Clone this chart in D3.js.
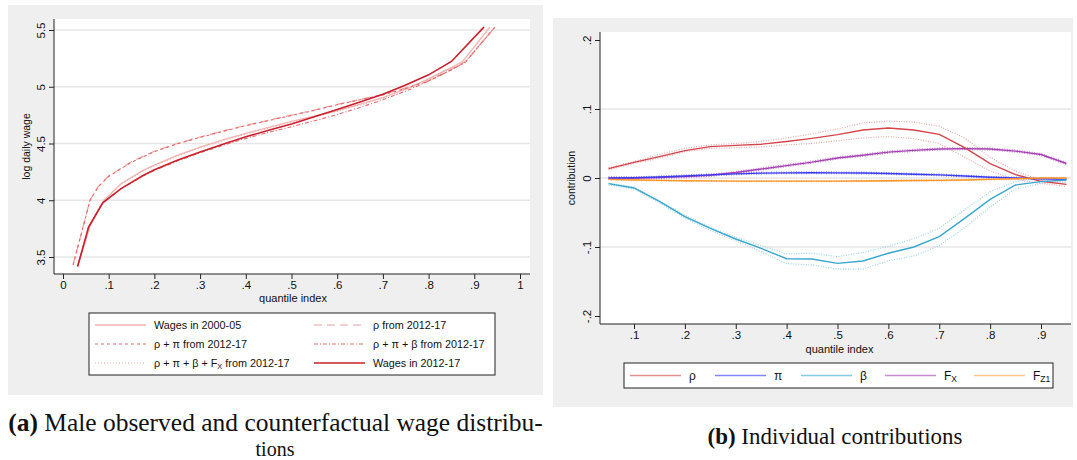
<!DOCTYPE html>
<html>
<head>
<meta charset="utf-8">
<script src="https://cdn.jsdelivr.net/npm/d3@7"></script>
<style>
  html, body { margin: 0; padding: 0; background: #ffffff; }
  svg { display: block; }
  text { font-family: "Liberation Sans", Arial, sans-serif; fill: #111; }
  .cap { font-family: "Liberation Serif", "DejaVu Serif", serif; }
</style>
</head>
<body>
<svg id="chart" width="1077" height="460"></svg>
<script>
// ---------- Panel (a): observed and counterfactual quantile curves ----------
const qWage0005 = [0.032, 0.06, 0.09, 0.127, 0.176, 0.2, 0.25, 0.3, 0.35, 0.4, 0.45, 0.5, 0.55, 0.6, 0.65, 0.7, 0.75, 0.8, 0.85, 0.875, 0.934];
const vWage0005 = [3.42, 3.78, 4.0, 4.145, 4.265, 4.31, 4.395, 4.468, 4.532, 4.59, 4.643, 4.694, 4.742, 4.79, 4.846, 4.905, 4.98, 5.07, 5.17, 5.225, 5.525];

const qRho = [0.022, 0.044, 0.059, 0.077, 0.1, 0.15, 0.2, 0.25, 0.3, 0.35, 0.4, 0.45, 0.5, 0.55, 0.6, 0.65, 0.7, 0.75, 0.8, 0.85, 0.88, 0.945];
const vRho = [3.43, 3.767, 4.0, 4.12, 4.214, 4.34, 4.432, 4.5, 4.557, 4.61, 4.66, 4.705, 4.75, 4.795, 4.845, 4.888, 4.932, 4.99, 5.055, 5.155, 5.22, 5.525];
const vRhoPi = [3.43, 3.765, 3.998, 4.118, 4.21, 4.336, 4.428, 4.497, 4.554, 4.607, 4.657, 4.702, 4.747, 4.792, 4.842, 4.885, 4.928, 4.985, 5.05, 5.15, 5.215, 5.525];

const qRhoPiBeta = [0.032, 0.056, 0.087, 0.127, 0.176, 0.2, 0.25, 0.3, 0.35, 0.4, 0.45, 0.5, 0.55, 0.6, 0.65, 0.7, 0.75, 0.8, 0.85, 0.88, 0.945];
const vRhoPiBeta = [3.417, 3.763, 3.978, 4.1, 4.215, 4.262, 4.345, 4.418, 4.484, 4.545, 4.598, 4.648, 4.7, 4.755, 4.818, 4.885, 4.962, 5.05, 5.15, 5.215, 5.525];
const vRhoPiBetaFx = [3.42, 3.775, 3.995, 4.14, 4.258, 4.303, 4.388, 4.46, 4.524, 4.582, 4.635, 4.686, 4.734, 4.782, 4.838, 4.897, 4.972, 5.062, 5.165, 5.22, 5.525];

const qWage1217 = [0.032, 0.056, 0.087, 0.127, 0.176, 0.2, 0.25, 0.3, 0.35, 0.4, 0.45, 0.5, 0.55, 0.6, 0.65, 0.7, 0.75, 0.8, 0.85, 0.921];
const vWage1217 = [3.417, 3.763, 3.978, 4.102, 4.22, 4.268, 4.352, 4.426, 4.494, 4.559, 4.616, 4.671, 4.735, 4.8, 4.866, 4.934, 5.015, 5.105, 5.223, 5.525];

const ticksXa = [0, 0.1, 0.2, 0.3, 0.4, 0.5, 0.6, 0.7, 0.8, 0.9, 1];
const tickLabelsXa = ["0", ".1", ".2", ".3", ".4", ".5", ".6", ".7", ".8", ".9", "1"];
const ticksYa = [3.5, 4, 4.5, 5, 5.5];
const tickLabelsYa = ["3.5", "4", "4.5", "5", "5.5"];

// ---------- Panel (b): individual contributions with bands ----------
const qContrib = [0.05, 0.1, 0.15, 0.2, 0.25, 0.3, 0.35, 0.4, 0.45, 0.5, 0.55, 0.6, 0.65, 0.7, 0.75, 0.8, 0.85, 0.9, 0.95];

const rhoMid = [0.0135, 0.0227, 0.031, 0.0396, 0.0454, 0.0473, 0.049, 0.053, 0.0575, 0.0628, 0.0696, 0.0725, 0.0696, 0.0633, 0.044, 0.0208, 0.0048, -0.0048, -0.0092];
const rhoHi = [0.015, 0.024, 0.034, 0.043, 0.048, 0.05, 0.053, 0.058, 0.064, 0.071, 0.08, 0.0825, 0.081, 0.075, 0.058, 0.03, 0.01, -0.003, -0.006];
const rhoLo = [0.012, 0.021, 0.029, 0.038, 0.043, 0.044, 0.045, 0.048, 0.05, 0.054, 0.058, 0.06, 0.057, 0.05, 0.03, 0.01, -0.002, -0.008, -0.012];

const piMid = [0.0, 0.0005, 0.0015, 0.003, 0.0045, 0.006, 0.007, 0.0075, 0.0077, 0.0075, 0.0072, 0.0065, 0.0055, 0.0045, 0.0028, 0.001, 0.0, -0.001, -0.002];
const piHi = piMid.map(v => v + 0.0012);
const piLo = piMid.map(v => v - 0.0012);

const betaMid = [-0.0082, -0.0145, -0.034, -0.056, -0.073, -0.0884, -0.102, -0.117, -0.1174, -0.1237, -0.1203, -0.109, -0.1, -0.085, -0.0585, -0.031, -0.0101, -0.0053, -0.003];
const betaHi = [-0.0075, -0.013, -0.033, -0.054, -0.071, -0.086, -0.098, -0.11, -0.109, -0.114, -0.108, -0.099, -0.088, -0.073, -0.046, -0.02, -0.005, 0.0, 0.001];
const betaLo = [-0.01, -0.016, -0.036, -0.058, -0.076, -0.091, -0.107, -0.124, -0.126, -0.132, -0.132, -0.12, -0.113, -0.098, -0.072, -0.042, -0.016, -0.008, -0.006];

const fxMid = [0.0, -0.0005, 0.0008, 0.002, 0.004, 0.008, 0.013, 0.018, 0.023, 0.029, 0.033, 0.0375, 0.04, 0.042, 0.0425, 0.042, 0.039, 0.034, 0.021];
const fxHi = fxMid.map(v => v + 0.0015);
const fxLo = fxMid.map(v => v - 0.0015);

const fzMid = [-0.002, -0.003, -0.0035, -0.004, -0.0042, -0.0045, -0.0045, -0.0045, -0.0045, -0.0045, -0.0043, -0.004, -0.0037, -0.0035, -0.0028, -0.002, -0.001, 0.0, 0.0];
const fzHi = fzMid.map(v => v + 0.0008);
const fzLo = fzMid.map(v => v - 0.0008);

const ticksXb = [0.1, 0.2, 0.3, 0.4, 0.5, 0.6, 0.7, 0.8, 0.9];
const tickLabelsXb = [".1", ".2", ".3", ".4", ".5", ".6", ".7", ".8", ".9"];
const ticksYb = [-0.2, -0.1, 0, 0.1, 0.2];
const tickLabelsYb = ["-.2", "-.1", "0", ".1", ".2"];

const svg = d3.select("#chart");
const BG = "#efefef";
const GRID = "#e6e6e6";

function zip(qs, vs) { return qs.map((q, i) => [q, vs[i]]); }

// ================= Panel (a) =================
const A = { bgX: 8, bgY: 5, bgW: 535, bgH: 390, left: 54, right: 530, top: 19, bottom: 274 };
svg.append("rect").attr("x", A.bgX).attr("y", A.bgY).attr("width", A.bgW).attr("height", A.bgH).attr("fill", BG);
svg.append("rect").attr("x", A.left).attr("y", A.top).attr("width", A.right - A.left).attr("height", A.bottom - A.top).attr("fill", "#fff");

const xA = d3.scaleLinear().domain([0, 1]).range([63, 520]);
const yA = d3.scaleLinear().domain([3.5, 5.5]).range([257, 30]);

const gA = svg.append("g");
// gridlines
gA.selectAll("line.grid").data(ticksYa).join("line")
  .attr("x1", A.left).attr("x2", A.right)
  .attr("y1", d => yA(d)).attr("y2", d => yA(d))
  .attr("stroke", GRID).attr("stroke-width", 1.3);

// axes
const axXa = d3.axisBottom(xA).tickValues(ticksXa).tickFormat((d, i) => tickLabelsXa[i]).tickSize(5).tickPadding(2);
const gxA = gA.append("g").attr("transform", `translate(0,${A.bottom})`).call(axXa);
gxA.select(".domain").remove();
gA.append("line").attr("x1", A.left).attr("x2", A.right).attr("y1", A.bottom).attr("y2", A.bottom).attr("stroke", "#222");
gxA.selectAll("text").attr("font-size", 11.5).attr("font-family", "Liberation Sans, Arial, sans-serif").attr("fill", "#111");
gxA.selectAll(".tick line").attr("stroke", "#222");

const axYa = d3.axisLeft(yA).tickValues(ticksYa).tickFormat((d, i) => tickLabelsYa[i]).tickSize(5).tickPadding(3);
const gyA = gA.append("g").attr("transform", `translate(${A.left},0)`).call(axYa);
gyA.select(".domain").remove();
gA.append("line").attr("x1", A.left).attr("x2", A.left).attr("y1", A.top).attr("y2", A.bottom).attr("stroke", "#222");
gyA.selectAll(".tick line").attr("stroke", "#222");
gyA.selectAll("text")
  .attr("font-size", 11.5).attr("font-family", "Liberation Sans, Arial, sans-serif").attr("fill", "#111")
  .attr("text-anchor", "middle").attr("x", 0).attr("dy", null)
  .attr("transform", "translate(-13,0) rotate(-90)")
  .attr("dominant-baseline", "central");

gA.append("text").attr("x", (A.left + A.right) / 2 + 1).attr("y", 302).attr("text-anchor", "middle")
  .attr("font-size", 11).text("quantile index");
gA.append("text").attr("transform", `translate(30,${(A.top + A.bottom) / 2}) rotate(-90)`).attr("text-anchor", "middle")
  .attr("font-size", 10.5).text("log daily wage");

const lineA = d3.line().x(d => xA(d[0])).y(d => yA(d[1]));
const seriesA = [
  { name: "Wages in 2000-05", data: zip(qWage0005, vWage0005), color: "#f2b3b3", dash: null, w: 1.3 },
  { name: "ρ from 2012-17", data: zip(qRho, vRho), color: "#eaa0a0", dash: "8,5", w: 1.2 },
  { name: "ρ + π from 2012-17", data: zip(qRho, vRhoPi), color: "#e46a6a", dash: "3,3", w: 1.1 },
  { name: "ρ + π + β from 2012-17", data: zip(qRhoPiBeta, vRhoPiBeta), color: "#e27070", dash: "4,2,1,2", w: 1.1 },
  { name: "ρ + π + β + Fx from 2012-17", data: zip(qRhoPiBeta, vRhoPiBetaFx), color: "#f0b0b0", dash: "1,2", w: 1.1 },
  { name: "Wages in 2012-17", data: zip(qWage1217, vWage1217), color: "#c8202c", dash: null, w: 1.6 }
];
gA.selectAll("path.s").data(seriesA).join("path")
  .attr("d", d => lineA(d.data)).attr("fill", "none")
  .attr("stroke", d => d.color).attr("stroke-width", d => d.w)
  .attr("stroke-dasharray", d => d.dash);

// legend (a)
const legA = svg.append("g");
legA.append("rect").attr("x", 89).attr("y", 313).attr("width", 406).attr("height", 62)
  .attr("fill", "#fff").attr("stroke", "#222").attr("stroke-width", 1);
const legALayout = [
  { s: 0, x: 95, y: 325 }, { s: 1, x: 314, y: 325 },
  { s: 2, x: 95, y: 344 }, { s: 3, x: 314, y: 344 },
  { s: 4, x: 95, y: 363 }, { s: 5, x: 314, y: 363 }
];
legALayout.forEach(L => {
  const s = seriesA[L.s];
  legA.append("line").attr("x1", L.x).attr("x2", L.x + 51).attr("y1", L.y).attr("y2", L.y)
    .attr("stroke", s.color).attr("stroke-width", s.w).attr("stroke-dasharray", s.dash);
  const t = legA.append("text").attr("x", L.x + 59).attr("y", L.y).attr("dy", "0.35em").attr("font-size", 10.8);
  if (L.s === 4) {
    t.append("tspan").text("ρ + π + β + F");
    t.append("tspan").attr("font-size", 7.5).attr("dy", "0.35em").text("X");
    t.append("tspan").attr("dy", "-0.25em").text(" from 2012-17");
  } else {
    t.text(s.name);
  }
});

// ================= Panel (b) =================
const B = { bgX: 553, bgY: 18, bgW: 520, bgH: 389, left: 600, right: 1071, top: 32, bottom: 324 };
svg.append("rect").attr("x", B.bgX).attr("y", B.bgY).attr("width", B.bgW).attr("height", B.bgH).attr("fill", BG);
svg.append("rect").attr("x", B.left).attr("y", B.top).attr("width", B.right - B.left).attr("height", B.bottom - B.top).attr("fill", "#fff");

const xB = d3.scaleLinear().domain([0.1, 0.9]).range([634, 1041]);
const yB = d3.scaleLinear().domain([-0.2, 0.2]).range([316, 40]);

const gB = svg.append("g");
gB.selectAll("line.grid").data([-0.1, 0, 0.1]).join("line")
  .attr("x1", B.left).attr("x2", B.right)
  .attr("y1", d => yB(d)).attr("y2", d => yB(d))
  .attr("stroke", GRID).attr("stroke-width", 1.3);

const axXb = d3.axisBottom(xB).tickValues(ticksXb).tickFormat((d, i) => tickLabelsXb[i]).tickSize(5).tickPadding(2);
const gxB = gB.append("g").attr("transform", `translate(0,${B.bottom})`).call(axXb);
gxB.select(".domain").remove();
gB.append("line").attr("x1", B.left).attr("x2", B.right).attr("y1", B.bottom).attr("y2", B.bottom).attr("stroke", "#222");
gxB.selectAll("text").attr("font-size", 11.5).attr("font-family", "Liberation Sans, Arial, sans-serif").attr("fill", "#111");
gxB.selectAll(".tick line").attr("stroke", "#222");

const axYb = d3.axisLeft(yB).tickValues(ticksYb).tickFormat((d, i) => tickLabelsYb[i]).tickSize(5).tickPadding(3);
const gyB = gB.append("g").attr("transform", `translate(${B.left},0)`).call(axYb);
gyB.select(".domain").remove();
gB.append("line").attr("x1", B.left).attr("x2", B.left).attr("y1", B.top).attr("y2", B.bottom).attr("stroke", "#222");
gyB.selectAll(".tick line").attr("stroke", "#222");
gyB.selectAll("text")
  .attr("font-size", 11.5).attr("font-family", "Liberation Sans, Arial, sans-serif").attr("fill", "#111")
  .attr("text-anchor", "middle").attr("x", 0).attr("dy", null)
  .attr("transform", "translate(-13,0) rotate(-90)")
  .attr("dominant-baseline", "central");

gB.append("text").attr("x", (xB(0.1) + xB(0.9)) / 2 + 2).attr("y", 353).attr("text-anchor", "middle")
  .attr("font-size", 11).text("quantile index");
gB.append("text").attr("transform", `translate(575,178) rotate(-90)`).attr("text-anchor", "middle")
  .attr("font-size", 10.5).text("contribution");

const lineB = d3.line().x(d => xB(d[0])).y(d => yB(d[1]));
const seriesB = [
  { key: "fx", mid: fxMid, hi: fxHi, lo: fxLo, color: "#a53fb3", band: "#c98ad0", legend: "#c88ad0" },
  { key: "rho", mid: rhoMid, hi: rhoHi, lo: rhoLo, color: "#d2454d", band: "#eeaaaa", legend: "#e38f8f" },
  { key: "pi", mid: piMid, hi: piHi, lo: piLo, color: "#3b3bf5", band: "#8a8aff", legend: "#8585ff" },
  { key: "beta", mid: betaMid, hi: betaHi, lo: betaLo, color: "#3aa6cf", band: "#9fd6ea", legend: "#86cce0" },
  { key: "fz", mid: fzMid, hi: fzHi, lo: fzLo, color: "#ff9528", band: "#ffc08a", legend: "#ffc68a" }
];
seriesB.forEach(s => {
  [s.hi, s.lo].forEach(b => {
    gB.append("path").attr("d", lineB(zip(qContrib, b))).attr("fill", "none")
      .attr("stroke", s.band).attr("stroke-width", 1.2).attr("stroke-dasharray", "1,1.5");
  });
});
seriesB.forEach(s => {
  gB.append("path").attr("d", lineB(zip(qContrib, s.mid))).attr("fill", "none")
    .attr("stroke", s.color).attr("stroke-width", 1.4);
});

// legend (b)
const legB = svg.append("g");
legB.append("rect").attr("x", 624).attr("y", 363).attr("width", 429).attr("height", 25)
  .attr("fill", "#fff").attr("stroke", "#222").attr("stroke-width", 1);
const legBItems = [
  { s: "rho", x: 630, label: ["ρ"] },
  { s: "pi", x: 715, label: ["π"] },
  { s: "beta", x: 801, label: ["β"] },
  { s: "fx", x: 885, label: ["F", "X"] },
  { s: "fz", x: 974, label: ["F", "Z1"] }
];
legBItems.forEach(L => {
  const s = seriesB.find(d => d.key === L.s);
  legB.append("line").attr("x1", L.x).attr("x2", L.x + 51).attr("y1", 375.5).attr("y2", 375.5)
    .attr("stroke", s.legend).attr("stroke-width", 1.6);
  const t = legB.append("text").attr("x", L.x + 59).attr("y", 375.5).attr("dy", "0.35em").attr("font-size", 12);
  t.append("tspan").text(L.label[0]);
  if (L.label[1]) t.append("tspan").attr("font-size", 8.5).attr("dy", "0.3em").text(L.label[1]);
});

// ================= Captions =================
function caption(x, y, bold, rest, width) {
  const t = svg.append("text").attr("class", "cap").attr("x", x).attr("y", y).attr("text-anchor", "middle").attr("font-size", 21);
  t.append("tspan").attr("font-weight", "bold").text(bold);
  t.append("tspan").text(" " + rest);
  if (width) {
    const w = t.node().getComputedTextLength();
    t.attr("font-size", 21 * width / w);
  }
  return t;
}
caption(275.5, 431, "(a)", "Male observed and counterfactual wage distribu-", 535);
svg.append("text").attr("class", "cap").attr("x", 275).attr("y", 456).attr("text-anchor", "middle")
  .attr("font-size", 20).text("tions");
caption(835, 444, "(b)", "Individual contributions", 255);
</script>
</body>
</html>
